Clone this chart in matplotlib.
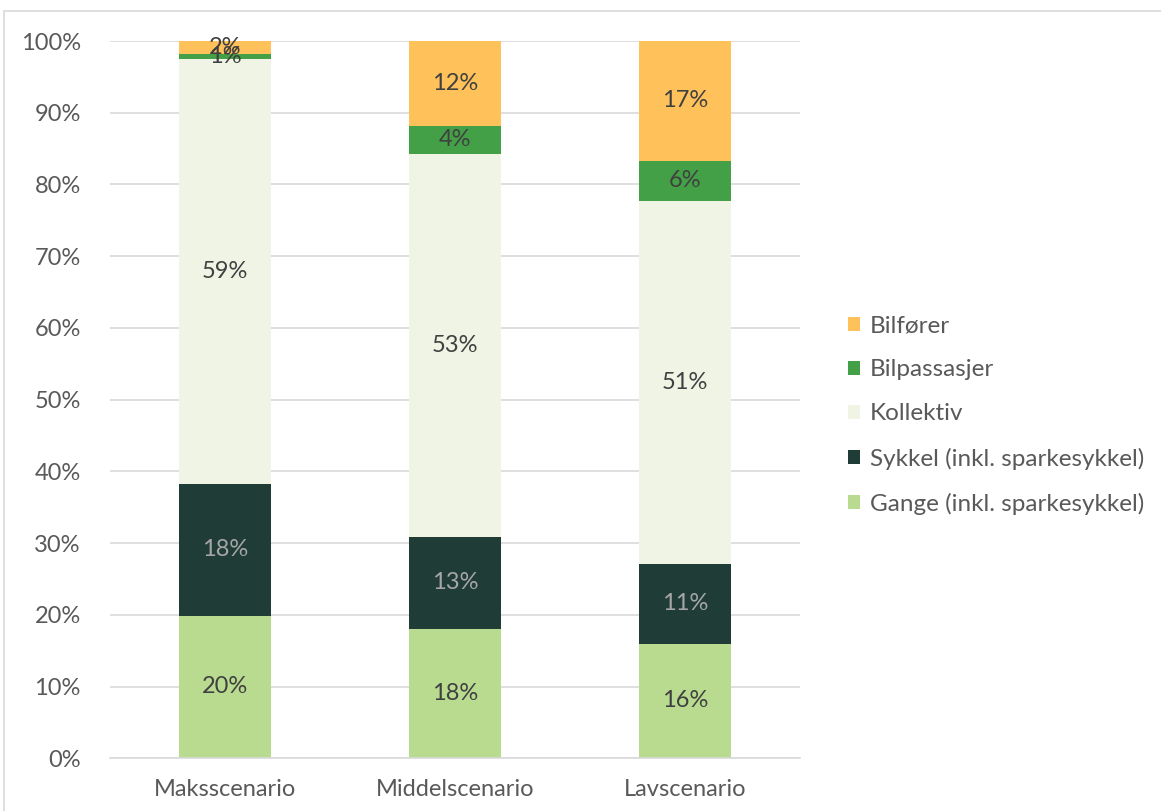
import matplotlib.pyplot as plt
import matplotlib.patches as mpatches
import numpy as np

plt.rcParams['font.family'] = ['Lato', 'DejaVu Sans']

# data (percent)
scenarios = ['Maksscenario', 'Middelscenario', 'Lavscenario']
gange = [19.9, 18.0, 16.0]
sykkel = [18.4, 12.9, 11.1]
kollektiv = [59.2, 53.4, 50.6]
bilpassasjer = [0.7, 3.9, 5.6]
bilforer = [1.8, 11.8, 16.7]

series = [
    ('Gange (inkl. sparkesykkel)', gange, '#B8DB8F', '#404040'),
    ('Sykkel (inkl. sparkesykkel)', sykkel, '#1F3D36', '#A6A6A6'),
    ('Kollektiv', kollektiv, '#F0F4E4', '#404040'),
    ('Bilpassasjer', bilpassasjer, '#43A046', '#404040'),
    ('Bilfører', bilforer, '#FFC25A', '#404040'),
]

fig = plt.figure(figsize=(11.61, 8.11), dpi=100)
ax = fig.add_axes([110/1161, 1-758.3/811, 690/1161, (758.3-41)/811])

x = np.arange(len(scenarios))
bottom = np.zeros(len(scenarios))
handles = []
for name, vals, col, tcol in series:
    vals = np.array(vals)
    b = ax.bar(x, vals, 0.4, bottom=bottom, color=col, label=name, zorder=2)
    handles.append(b)
    for xi, v, b0 in zip(x, vals, bottom):
        ax.text(xi, b0 + v/2, f'{round(v):.0f}%', ha='center', va='center',
                fontsize=17, color=tcol, zorder=3)
    bottom += vals

ax.set_xlim(-0.5, 2.5)
ax.set_ylim(0, 100)
ax.set_yticks(range(0, 101, 10))
ax.set_yticklabels([f'{v}%' for v in range(0, 101, 10)])
ax.set_xticks(x)
ax.set_xticklabels(scenarios)
ax.tick_params(axis='both', length=0, labelsize=17, labelcolor='#595959')
ax.tick_params(axis='x', pad=15)
ax.tick_params(axis='y', pad=21)
ax.grid(axis='y', color='#D9D9D9', linewidth=1.2, zorder=0)
for s in ['top', 'right', 'left']:
    ax.spines[s].set_visible(False)
ax.spines['bottom'].set_color('#D9D9D9')
ax.spines['bottom'].set_linewidth(1.2)

leg = fig.legend(handles[::-1], [s[0] for s in series][::-1],
                 loc='center left', bbox_to_anchor=(826/1161, 1-415/811),
                 frameon=False, fontsize=17.5, labelcolor='#595959',
                 handlelength=0.5, handleheight=0.5, handletextpad=0.4,
                 labelspacing=0.95)

# outer chart border
fig.patches.append(mpatches.Rectangle((4/1161, -0.1), 1.2, 1-11/811+0.1,
                                      transform=fig.transFigure, fill=False,
                                      edgecolor='#D9D9D9', linewidth=1.2))

fig.savefig('out.png', dpi=100)
